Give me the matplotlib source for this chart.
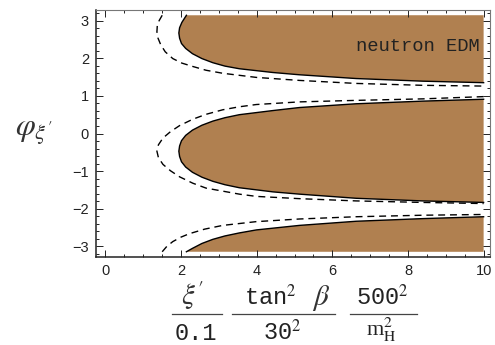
import matplotlib
matplotlib.use('Agg')
import matplotlib.pyplot as plt
import numpy as np
from matplotlib.ticker import MultipleLocator

plt.rcParams['font.family'] = ['Liberation Sans', 'DejaVu Sans']
plt.rcParams['mathtext.fontset'] = 'stix'

# boundary curves (x, phi)
up_solid_x = [2.14, 2.02, 1.96, 1.94, 1.96, 2.01, 2.12, 2.30, 2.55, 2.84, 3.16, 3.54, 4.43, 5.13, 6.63, 8.39, 10.0]
up_solid_y = [3.14, 2.95, 2.81, 2.67, 2.53, 2.39, 2.26, 2.12, 1.99, 1.88, 1.79, 1.72, 1.62, 1.56, 1.46, 1.39, 1.35]

mid_solid_x = [10.0, 8.39, 6.63, 5.13, 4.43, 3.54, 3.16, 2.84, 2.55, 2.30, 2.12, 2.01, 1.96, 1.94,
               1.96, 2.01, 2.12, 2.30, 2.55, 2.84, 3.16, 3.54, 4.43, 5.13, 6.63, 8.39, 10.0]
mid_solid_y = [0.91, 0.86, 0.79, 0.69, 0.61, 0.50, 0.42, 0.33, 0.22, 0.09, -0.05, -0.19, -0.33, -0.47,
               -0.61, -0.75, -0.89, -1.03, -1.16, -1.27, -1.36, -1.44, -1.55, -1.61, -1.72, -1.79, -1.83]

low_solid_x = [2.14, 2.30, 2.55, 2.84, 3.16, 3.54, 3.99, 5.13, 6.63, 8.39, 10.0]
low_solid_y = [-3.14, -3.05, -2.92, -2.81, -2.72, -2.64, -2.56, -2.44, -2.33, -2.26, -2.21]

up_dash_x = [1.50, 1.42, 1.37, 1.36, 1.39, 1.46, 1.58, 1.78, 2.02, 2.31, 2.66, 3.10, 3.99, 5.13, 6.63, 8.39, 10.0]
up_dash_y = [3.14, 3.00, 2.86, 2.70, 2.53, 2.36, 2.17, 1.99, 1.87, 1.78, 1.68, 1.60, 1.49, 1.41, 1.33, 1.28, 1.26]

mid_dash_x = [10.0, 8.39, 6.63, 5.13, 3.99, 3.54, 3.10, 2.66, 2.31, 1.96, 1.72, 1.52, 1.40, 1.36,
              1.40, 1.52, 1.72, 1.96, 2.31, 2.66, 3.10, 3.54, 3.99, 5.13, 6.63, 8.39, 10.0]
mid_dash_y = [0.98, 0.92, 0.88, 0.84, 0.77, 0.71, 0.63, 0.51, 0.38, 0.21, 0.05, -0.12, -0.3, -0.47,
              -0.64, -0.82, -0.99, -1.15, -1.32, -1.45, -1.53, -1.61, -1.67, -1.73, -1.79, -1.83, -1.86]

low_dash_x = [1.50, 1.62, 1.78, 2.00, 2.22, 2.62, 3.10, 3.99, 5.13, 6.63, 8.39, 10.0]
low_dash_y = [-3.14, -3.00, -2.87, -2.75, -2.66, -2.54, -2.44, -2.34, -2.27, -2.21, -2.17, -2.15]

fill_color = '#b08050'
x_max = 10.0
phi_max = np.pi

fig = plt.figure(figsize=(4.95, 3.45), dpi=100)
ax = fig.add_axes([0.194, 0.255, 0.796, 0.716])

# brown excluded regions
ax.fill(up_solid_x + [x_max], up_solid_y + [phi_max], color=fill_color, lw=0)
ax.fill(mid_solid_x, mid_solid_y, color=fill_color, lw=0)
ax.fill(low_solid_x + [x_max], low_solid_y + [-phi_max], color=fill_color, lw=0)

for xs, ys in [(up_solid_x, up_solid_y), (mid_solid_x, mid_solid_y), (low_solid_x, low_solid_y)]:
    ax.plot(xs, ys, 'k-', lw=1.0, solid_joinstyle='round')
for xs, ys in [(up_dash_x, up_dash_y), (mid_dash_x, mid_dash_y), (low_dash_x, low_dash_y)]:
    ax.plot(xs, ys, 'k', lw=1.0, dashes=(5, 3.5))

ax.set_xlim(-0.25, 10.17)
ax.set_ylim(-3.28, 3.28)

ax.xaxis.set_major_locator(MultipleLocator(2))
ax.xaxis.set_minor_locator(MultipleLocator(0.5))
ax.yaxis.set_major_locator(MultipleLocator(1))
ax.yaxis.set_minor_locator(MultipleLocator(0.2))
ax.tick_params(which='both', direction='in', top=True, right=True, labelsize=10.5,
               width=0.7, colors='#222222')
ax.tick_params(which='major', length=5, pad=5)
ax.tick_params(which='minor', length=2.5)

for side in ['left', 'bottom']:
    ax.spines[side].set_linewidth(1.1)
    ax.spines[side].set_color('#222222')
for side in ['top', 'right']:
    ax.spines[side].set_linewidth(0.8)
    ax.spines[side].set_color('#777777')

ax.text(9.9, 2.32, 'neutron EDM', family='Liberation Mono', fontsize=13.5, ha='right', va='center',
        color='#222222')

# axis labels
fig.text(0.068, 0.615, r"$\varphi_{\xi'}$", fontsize=23, ha='center', va='center', color='#333333')

mono = dict(family='Liberation Mono', fontsize=17, color='#222222', ha='center', va='baseline')
bar_y = 1 - 314 / 345
num_y = 1 - 305 / 345
den_y = 1 - 340 / 345
fig.text(193 / 495, num_y, r"$\xi'$", fontsize=21, ha='center', va='baseline', color='#333333')
fig.text(196 / 495, den_y, '0.1', **mono)
fig.text(270 / 495, num_y, r'tan$^2$', **mono)
fig.text(321 / 495, num_y, r'$\beta$', fontsize=21, ha='center', va='baseline', color='#333333')
fig.text(282 / 495, den_y, r'30$^2$', **mono)
fig.text(382 / 495, num_y, r'500$^2$', **mono)
fig.text(381 / 495, 1 - 336 / 345, r'm$_\mathrm{H}^2$', family='Liberation Serif', fontsize=16,
         color='#222222', ha='center', va='baseline')
for x0, x1 in [(172, 222), (232, 335), (350, 417)]:
    fig.add_artist(plt.Line2D([x0 / 495, x1 / 495], [bar_y, bar_y], color='#444444', lw=0.9))

plt.savefig('out.png', dpi=100)
